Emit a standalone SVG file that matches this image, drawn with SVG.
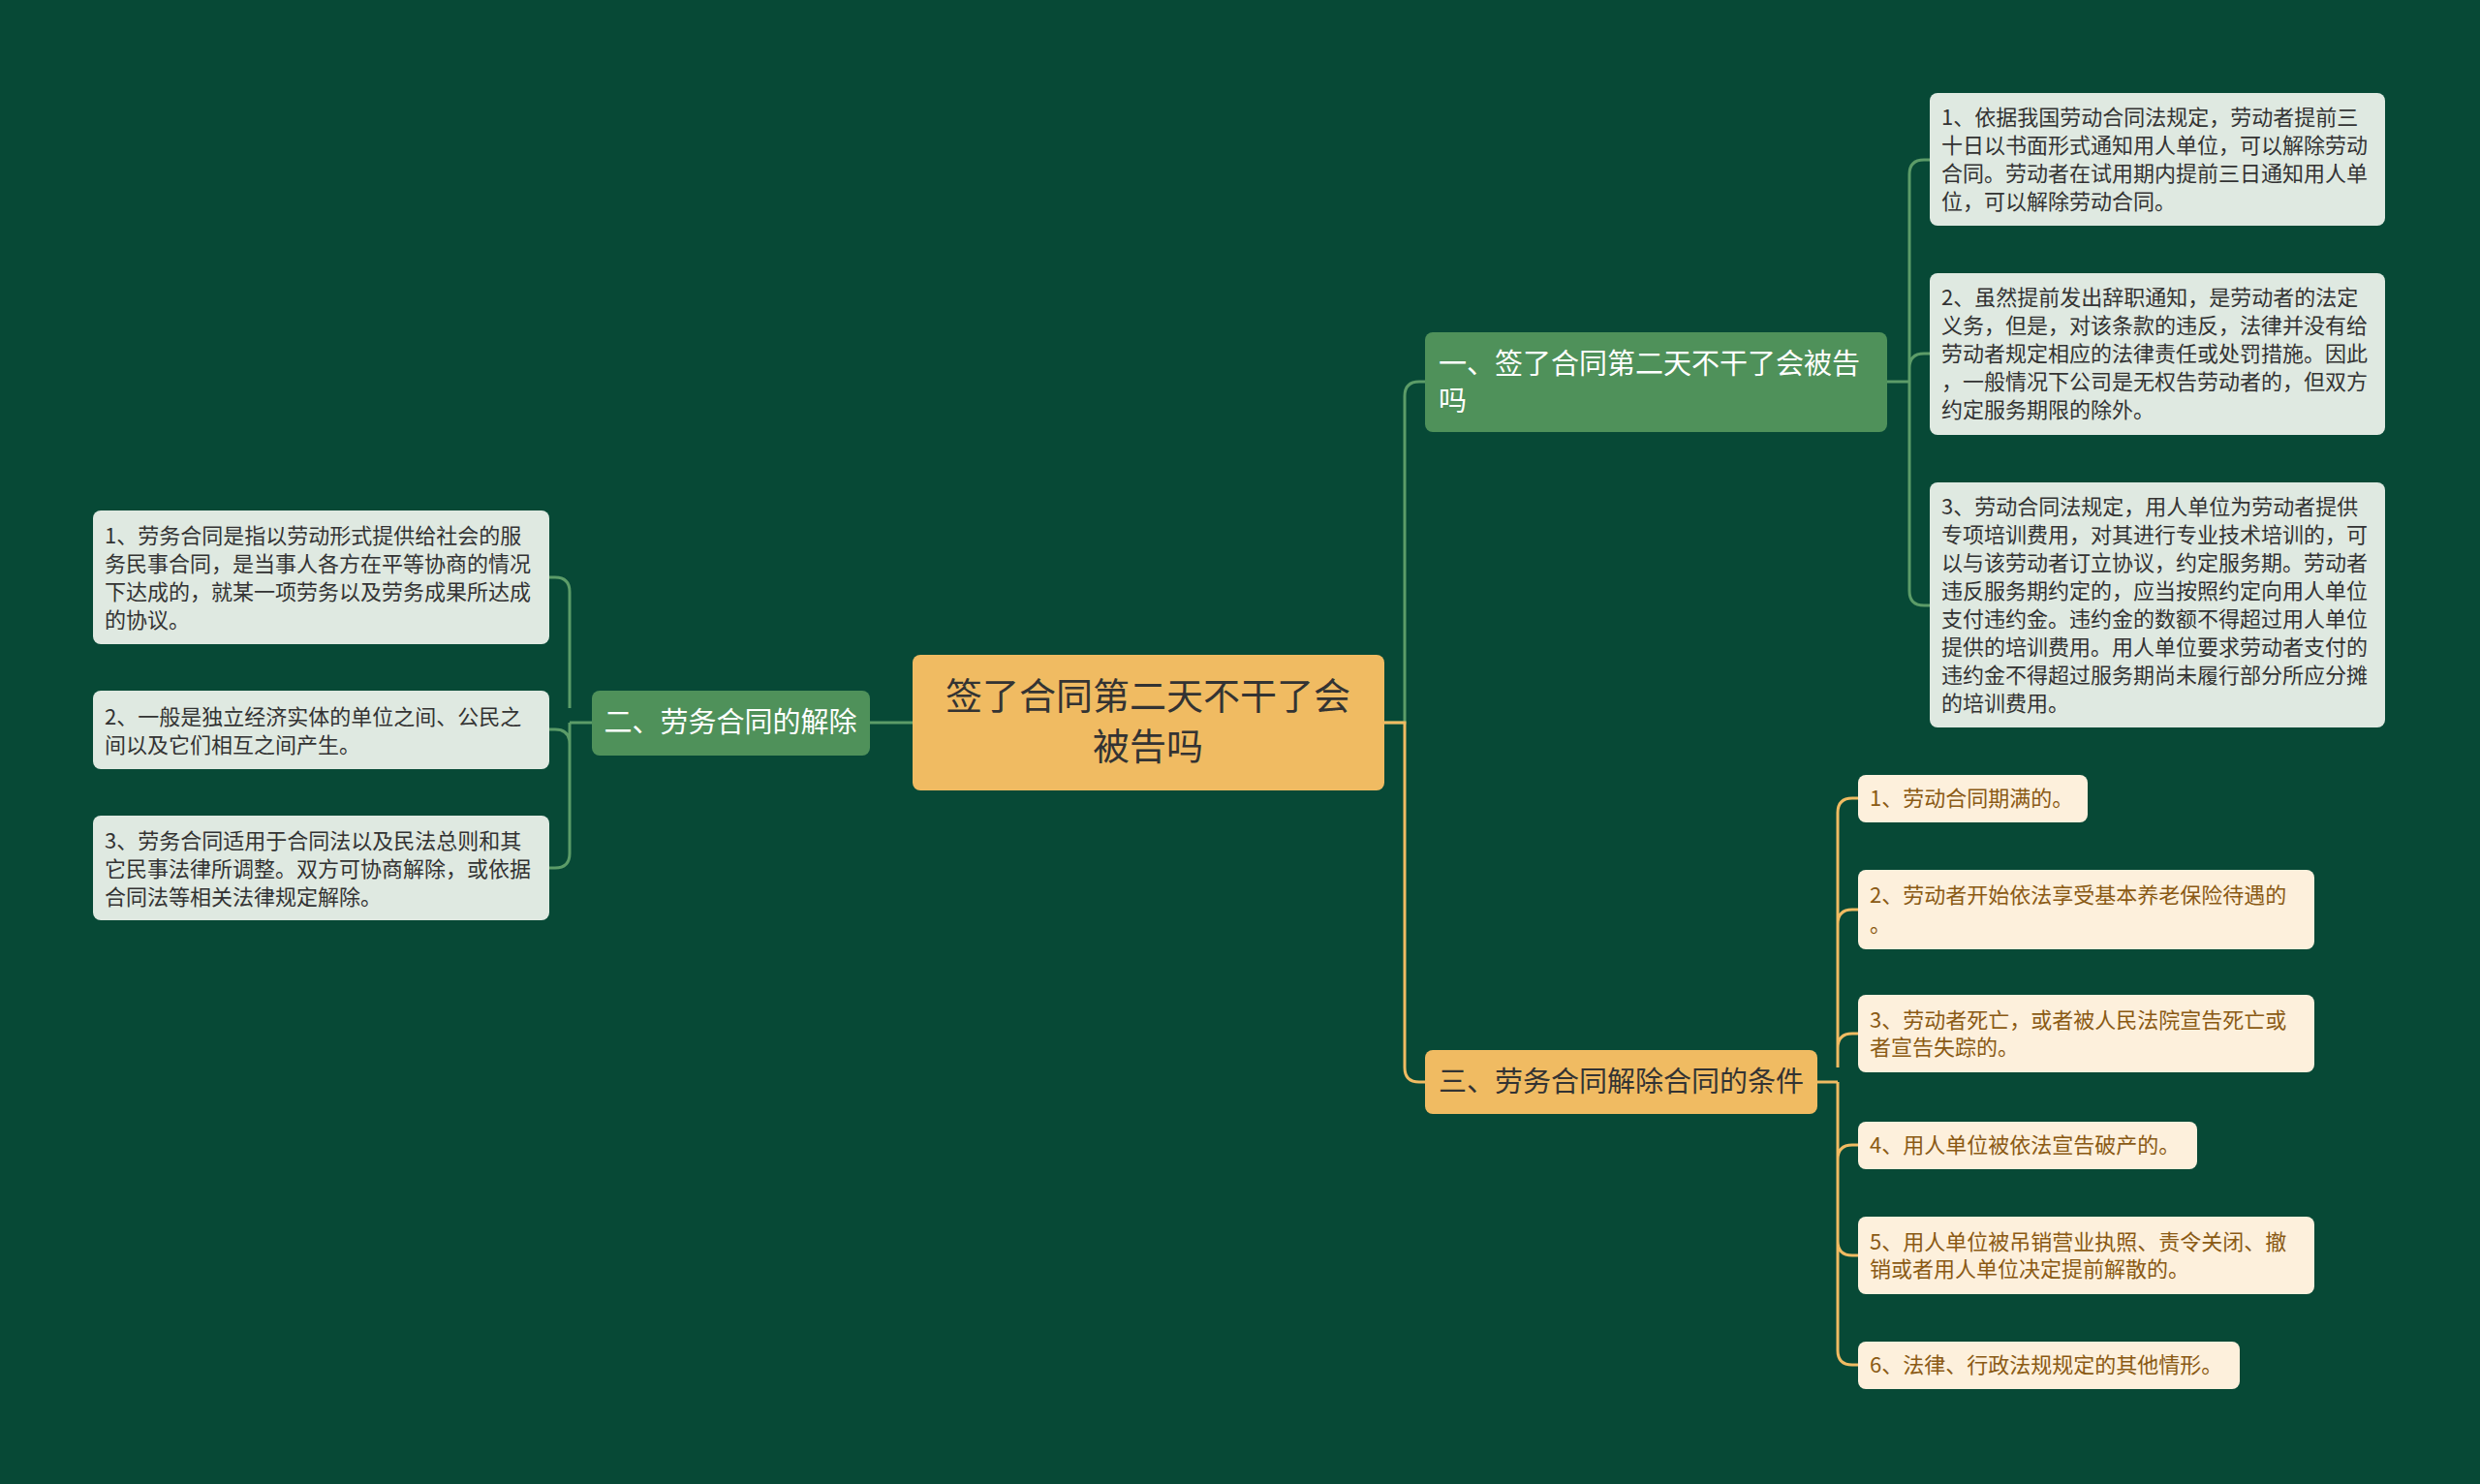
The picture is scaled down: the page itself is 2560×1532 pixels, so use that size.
<svg xmlns="http://www.w3.org/2000/svg" width="2560" height="1532" viewBox="0 0 2560 1532">
<style>
text{font-family:"Noto Sans CJK SC","Noto Sans",sans-serif}
.lf{font-size:22px;fill:#333}
.of{font-size:22px;fill:#8a5a14}
.gl{fill:#dfe9e1}
.ol{fill:#fdf0dc}
.c{fill:none;stroke-width:3}
</style>
<rect width="2560" height="1532" fill="#074936"/>
<g id="connectors">
<path class="c" stroke="#5c9c68" d="M1429,746 H1450 V409 Q1450,394 1465,394 H1471"/>
<path class="c" stroke="#f0bb62" d="M1429,746 H1450 V1102 Q1450,1117 1465,1117 H1471"/>
<path class="c" stroke="#5c9c68" d="M942,746 H898"/>
<path class="c" stroke="#5c9c68" d="M1948,394 H1971 M1971,409 V180 Q1971,165 1986,165 H1992 M1971,380 Q1971,365 1986,365 H1992 M1971,394 V610 Q1971,625 1986,625 H1992"/>
<path class="c" stroke="#5c9c68" d="M611,746 H588 M588,731 V611 Q588,596 573,596 H567 M588,746 V768 Q588,753 573,753 H567 M588,753 V881 Q588,896 573,896 H567"/>
<path class="c" stroke="#f0bb62" d="M1876,1117 H1897 M1897,1102 V839 Q1897,824 1912,824 H1918 M1897,954 Q1897,939 1912,939 H1918 M1897,1082 Q1897,1067 1912,1067 H1918 M1897,1197 Q1897,1182 1912,1182 H1918 M1897,1117 V1394 Q1897,1409 1912,1409 H1918 M1897,1281 Q1897,1296 1912,1296 H1918"/>
</g>
<g id="root"><rect x="942" y="676" width="487" height="140" rx="8" fill="#f0bb62"/>
<text x="1185" y="732" font-size="38" fill="#333" text-anchor="middle">签了合同第二天不干了会</text>
<text x="1185" y="784" font-size="38" fill="#333" text-anchor="middle">被告吗</text></g>
<g id="b1"><rect x="1471" y="343" width="477" height="103" rx="8" fill="#4f915a"/>
<text x="1485" y="386" font-size="29" fill="#fff">一、签了合同第二天不干了会被告</text>
<text x="1485" y="424" font-size="29" fill="#fff">吗</text></g>
<g id="b2"><rect x="611" y="713" width="287" height="67" rx="8" fill="#4f915a"/>
<text x="754" y="756" font-size="29" fill="#fff" text-anchor="middle">二、劳务合同的解除</text></g>
<g id="b3"><rect x="1471" y="1084" width="405" height="66" rx="8" fill="#f0bb62"/>
<text x="1485" y="1127" font-size="29" fill="#333">三、劳务合同解除合同的条件</text></g>
<g id="g1"><rect class="gl" x="1992" y="96" width="470" height="137" rx="8"/>
<text class="lf" x="2004"><tspan x="2004" y="129">1、依据我国劳动合同法规定，劳动者提前三</tspan><tspan x="2004" y="158">十日以书面形式通知用人单位，可以解除劳动</tspan><tspan x="2004" y="187">合同。劳动者在试用期内提前三日通知用人单</tspan><tspan x="2004" y="216">位，可以解除劳动合同。</tspan></text></g>
<g id="g2"><rect class="gl" x="1992" y="282" width="470" height="167" rx="8"/>
<text class="lf"><tspan x="2004" y="315">2、虽然提前发出辞职通知，是劳动者的法定</tspan><tspan x="2004" y="344">义务，但是，对该条款的违反，法律并没有给</tspan><tspan x="2004" y="373">劳动者规定相应的法律责任或处罚措施。因此</tspan><tspan x="2004" y="402">，一般情况下公司是无权告劳动者的，但双方</tspan><tspan x="2004" y="431">约定服务期限的除外。</tspan></text></g>
<g id="g3"><rect class="gl" x="1992" y="498" width="470" height="253" rx="8"/>
<text class="lf"><tspan x="2004" y="531">3、劳动合同法规定，用人单位为劳动者提供</tspan><tspan x="2004" y="560">专项培训费用，对其进行专业技术培训的，可</tspan><tspan x="2004" y="589">以与该劳动者订立协议，约定服务期。劳动者</tspan><tspan x="2004" y="618">违反服务期约定的，应当按照约定向用人单位</tspan><tspan x="2004" y="647">支付违约金。违约金的数额不得超过用人单位</tspan><tspan x="2004" y="676">提供的培训费用。用人单位要求劳动者支付的</tspan><tspan x="2004" y="705">违约金不得超过服务期尚未履行部分所应分摊</tspan><tspan x="2004" y="734">的培训费用。</tspan></text></g>
<g id="a1"><rect class="gl" x="96" y="527" width="471" height="138" rx="8"/>
<text class="lf"><tspan x="108" y="561">1、劳务合同是指以劳动形式提供给社会的服</tspan><tspan x="108" y="590">务民事合同，是当事人各方在平等协商的情况</tspan><tspan x="108" y="619">下达成的，就某一项劳务以及劳务成果所达成</tspan><tspan x="108" y="648">的协议。</tspan></text></g>
<g id="a2"><rect class="gl" x="96" y="713" width="471" height="81" rx="8"/>
<text class="lf"><tspan x="108" y="748">2、一般是独立经济实体的单位之间、公民之</tspan><tspan x="108" y="777">间以及它们相互之间产生。</tspan></text></g>
<g id="a3"><rect class="gl" x="96" y="842" width="471" height="108" rx="8"/>
<text class="lf"><tspan x="108" y="876">3、劳务合同适用于合同法以及民法总则和其</tspan><tspan x="108" y="905">它民事法律所调整。双方可协商解除，或依据</tspan><tspan x="108" y="934">合同法等相关法律规定解除。</tspan></text></g>
<g id="o1"><rect class="ol" x="1918" y="800" width="237" height="49" rx="8"/><text class="of" x="1930" y="832">1、劳动合同期满的。</text></g>
<g id="o2"><rect class="ol" x="1918" y="898" width="471" height="82" rx="8"/><text class="of"><tspan x="1930" y="932">2、劳动者开始依法享受基本养老保险待遇的</tspan><tspan x="1930" y="962">。</tspan></text></g>
<g id="o3"><rect class="ol" x="1918" y="1027" width="471" height="80" rx="8"/><text class="of"><tspan x="1930" y="1061">3、劳动者死亡，或者被人民法院宣告死亡或</tspan><tspan x="1930" y="1089">者宣告失踪的。</tspan></text></g>
<g id="o4"><rect class="ol" x="1918" y="1158" width="350" height="49" rx="8"/><text class="of" x="1930" y="1190">4、用人单位被依法宣告破产的。</text></g>
<g id="o5"><rect class="ol" x="1918" y="1256" width="471" height="80" rx="8"/><text class="of"><tspan x="1930" y="1290">5、用人单位被吊销营业执照、责令关闭、撤</tspan><tspan x="1930" y="1318">销或者用人单位决定提前解散的。</tspan></text></g>
<g id="o6"><rect class="ol" x="1918" y="1385" width="394" height="49" rx="8"/><text class="of" x="1930" y="1417">6、法律、行政法规规定的其他情形。</text></g>
</svg>
